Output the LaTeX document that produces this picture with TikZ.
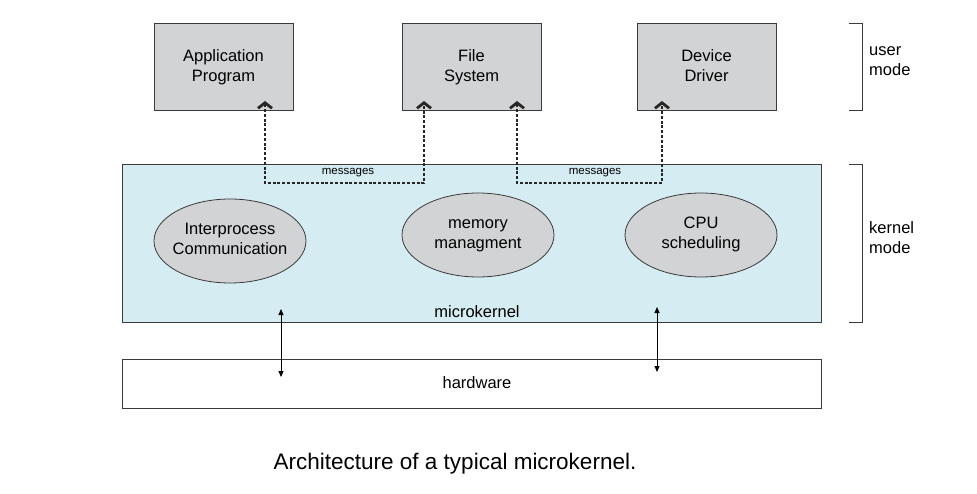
\documentclass[tikz,border=0pt]{standalone}
\usepackage{fontspec}
\setmainfont{Liberation Sans}
\usetikzlibrary{arrows.meta,shapes.geometric}
\definecolor{boxgray}{HTML}{D1D3D4}
\definecolor{kernblue}{HTML}{D5ECF3}
\definecolor{edge}{HTML}{3A3A3A}
\newcommand{\twolines}[2]{\strut#1\\#2\strut}
\tikzset{
  userbox/.style={draw=edge, line width=1pt, fill=boxgray, minimum width=139pt, minimum height=87pt, inner sep=0pt, align=center, font=\fontsize{16.5}{20}\selectfont},
  layer/.style={draw=edge, line width=1pt, minimum width=699pt, inner sep=0pt},
  service/.style={ellipse, draw=edge, line width=0.8pt, fill=boxgray, minimum width=152pt, minimum height=84pt, inner sep=0pt},
  svctext/.style={inner sep=0pt, align=center, font=\fontsize{16.5}{20}\selectfont},
  lbl/.style={inner sep=0pt, font=\fontsize{16.5}{20}\selectfont},
  msglbl/.style={inner sep=0pt, font=\fontsize{11.5}{13}\selectfont},
  msg/.style={draw=black!85, line width=2.6pt, dash pattern=on 3pt off 1.8pt, {Straight Barb[length=5.5pt,width=14pt,line width=2.8pt]}-{Straight Barb[length=5.5pt,width=14pt,line width=2.8pt]}},
  hwlink/.style={draw=black, line width=0.9pt, {Triangle[length=6pt,width=5pt]}-{Triangle[length=6pt,width=5pt]}},
  brk/.style={draw=edge, line width=1pt},
  modelbl/.style={inner sep=0pt, anchor=west, align=left, font=\fontsize{16.5}{20}\selectfont}
}
\begin{document}
\begin{tikzpicture}[x=1pt,y=-1pt]
\useasboundingbox (0,0) rectangle (977,494);
% layers
\node[layer, fill=kernblue, minimum height=157pt] (mk) at (471.5,243.5) {};
\node[layer, fill=white, minimum height=49pt] (hw) at (471.5,383.5) {};
\node[lbl] (mktext) at (477,312) {microkernel};
\node[lbl] (hwtext) at (477,383) {hardware};
% user boxes
\node[userbox] (app) at (223.5,67.5) {\twolines{Application}{Program}};
\node[userbox] (fs) at (471.5,67.5) {\twolines{File}{System}};
\node[userbox] (dd) at (706.5,67.5) {\twolines{Device}{Driver}};
% message connectors
\coordinate (t1) at (265,101);
\coordinate (t2) at (424,101);
\coordinate (t3) at (517,101);
\coordinate (t4) at (662,101);
\draw[msg] (t1) -- ++(0,82) -| (t2);
\draw[msg] (t3) -- ++(0,82) -| (t4);
\node[msglbl] (m1) at (348,173) {messages};
\node[msglbl] (m2) at (595,173) {messages};
% services
\node[service] (ipc) at (230,241) {};
\node[svctext] (ipct) at (ipc.center) {\twolines{Interprocess}{Communication}};
\node[service] (mem) at (478,235) {};
\node[svctext] (memt) at (mem.center) {\twolines{memory}{managment}};
\node[service] (cpu) at (701,235) {};
\node[svctext] (cput) at (cpu.center) {\twolines{CPU}{scheduling}};
% kernel-hardware links
\coordinate (a1) at (281,309);
\coordinate (b1) at (281,377);
\coordinate (a2) at (657,307);
\coordinate (b2) at (657,372);
\draw[hwlink] (a1) -- (b1);
\draw[hwlink] (a2) -- (b2);
% brackets
\draw[brk] (849,24) -- (862,24) -- (862,111) -- (849,111);
\draw[brk] (849,165) -- (862,165) -- (862,322) -- (849,322);
\node[modelbl] (um) at (869,62) {\twolines{user}{mode}};
\node[modelbl] (km) at (869,240) {\twolines{kernel}{mode}};
% caption
\node[inner sep=0pt, font=\fontsize{22.5}{26}\selectfont] (cap) at (455,464) {Architecture of a typical microkernel.};
\end{tikzpicture}
\end{document}
